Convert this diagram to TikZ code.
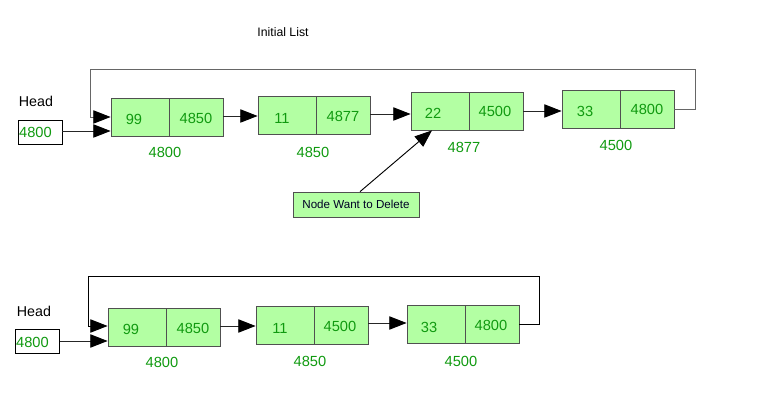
\documentclass[tikz,border=0pt]{standalone}
\usepackage{fontspec}
\setmainfont{Liberation Sans}
\usetikzlibrary{arrows.meta}
\definecolor{cellfill}{HTML}{B3FFA3}
\definecolor{valgreen}{HTML}{109A10}
\definecolor{cellborder}{HTML}{505050}
\tikzset{
  cell/.style={draw=cellborder, fill=cellfill, minimum height=28.5pt, inner sep=0pt, line width=0.6pt},
  dcell/.style={cell, minimum width=43.5pt},
  pcell/.style={cell, minimum width=40.5pt},
  val/.style={text=valgreen, font=\fontsize{11}{13}\selectfont, inner sep=0pt},
  lbl/.style={text=valgreen, font=\fontsize{11}{13}\selectfont, inner sep=0pt},
  headtxt/.style={text=black, font=\fontsize{10.7}{13}\selectfont, inner sep=0pt},
  headbox/.style={draw=black, fill=white, minimum width=33pt, minimum height=18pt, inner sep=0pt, line width=0.6pt},
  conn/.style={draw=black!85, line width=0.7pt, -{Triangle[length=13pt,width=10pt,color=black]}},
}
\begin{document}
\begin{tikzpicture}[x=0.75pt,y=-0.75pt]
\useasboundingbox (0,0) rectangle (783,402);
\node[inner sep=0pt, font=\fontsize{9.2}{11}\selectfont] (title) at (283,32) {Initial List};

% ---------- top list ----------
\node[headtxt] (h1) at (36,101) {Head};
\node[headbox] (h1b) at (40,132) {};
\node[val] (h1v) at (35.5,132) {4800};

\node[dcell] (t1d) at (140,117) {};
\node[pcell] (t1p) at (196,117) {};
\node[dcell] (t2d) at (287,115) {};
\node[pcell] (t2p) at (343,115) {};
\node[dcell] (t3d) at (440,111) {};
\node[pcell] (t3p) at (496,111) {};
\node[dcell] (t4d) at (591,109) {};
\node[pcell] (t4p) at (647,109) {};

\node[val] (t1dv) at (134,119) {99};
\node[val] (t1pv) at (196,118) {4850};
\node[val] (t2dv) at (282,118) {11};
\node[val] (t2pv) at (343,116) {4877};
\node[val] (t3dv) at (433,113) {22};
\node[val] (t3pv) at (495,111) {4500};
\node[val] (t4dv) at (585,111) {33};
\node[val] (t4pv) at (647,109) {4800};

\node[lbl] (t1l) at (165,152) {4800};
\node[lbl] (t2l) at (313,152) {4850};
\node[lbl] (t3l) at (464,147) {4877};
\node[lbl] (t4l) at (616,145) {4500};

\draw[conn] (h1b.east |- 0,131) -- (t1d.west |- 0,131);
\draw[conn] (t1p.east |- 0,116) -- (t2d.west |- 0,116);
\draw[conn] (t2p.east |- 0,114) -- (t3d.west |- 0,114);
\draw[conn] (t3p.east) -- (t3p.east -| t4d.west);

\coordinate (tr) at (695,69);
\coordinate (tl) at (90,69);
\draw[conn, draw=black!60] (t4p.east) -| (tr) -- (tl) |- (t1d.west);

\node[draw=cellborder, fill=cellfill, minimum width=94.5pt, minimum height=18.75pt, inner sep=0pt,
      font=\fontsize{8.7}{10}\selectfont, text=black!85!blue, line width=0.5pt] (del) at (356,204.5) {Node Want to Delete};
\draw[conn, draw=black] ([xshift=3pt]del.north) -- ([xshift=-6pt]t3d.south);

% ---------- bottom list ----------
\node[headtxt] (h2) at (34,311) {Head};
\node[headbox] (h2b) at (37.5,341.5) {};
\node[val] (h2v) at (32.5,342) {4800};

\node[dcell] (b1d) at (137,327) {};
\node[pcell] (b1p) at (193,327) {};
\node[dcell] (b2d) at (285,325) {};
\node[pcell] (b2p) at (341,325) {};
\node[dcell] (b3d) at (436,324) {};
\node[pcell] (b3p) at (492,324) {};

\node[val] (b1dv) at (131,329) {99};
\node[val] (b1pv) at (193,328) {4850};
\node[val] (b2dv) at (280,328) {11};
\node[val] (b2pv) at (340,326) {4500};
\node[val] (b3dv) at (429,327) {33};
\node[val] (b3pv) at (491,325) {4800};

\node[lbl] (b1l) at (162,362) {4800};
\node[lbl] (b2l) at (310,361) {4850};
\node[lbl] (b3l) at (461,361) {4500};

\draw[conn] (h2b.east |- 0,341) -- (b1d.west |- 0,341);
\draw[conn] (b1p.east |- 0,326) -- (b2d.west |- 0,326);
\draw[conn] (b2p.east |- 0,323) -- (b3d.west |- 0,323);

\coordinate (br) at (539,276);
\coordinate (bl) at (88,276);
\draw[conn, draw=black] (b3p.east) -| (br) -- (bl) |- (b1d.west |- 0,326);
\end{tikzpicture}
\end{document}
